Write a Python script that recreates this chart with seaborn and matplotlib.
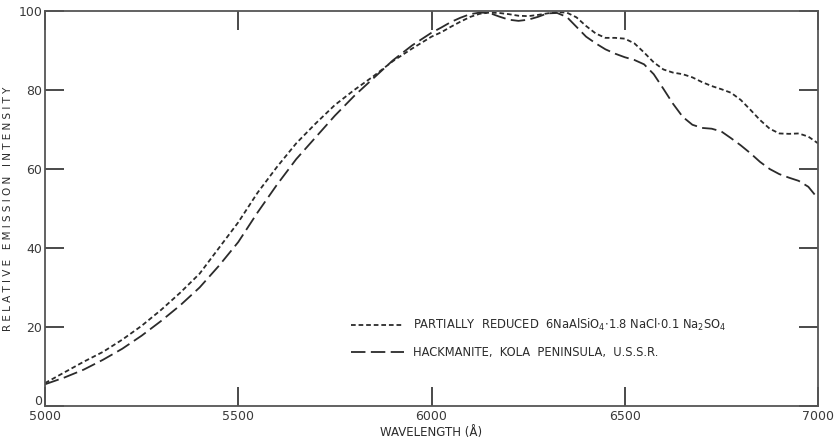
import numpy as np
import pandas as pd
import seaborn as sns
import matplotlib
matplotlib.use("Agg")
import matplotlib.pyplot as plt
import matplotlib.transforms as mtransforms

wavelength = [5000, 5050, 5100, 5150, 5200, 5250, 5300, 5350, 5400, 5450,
              5500, 5550, 5600, 5650, 5700, 5750, 5800, 5850, 5900, 5950,
              6000, 6025, 6050, 6075, 6100, 6125, 6150, 6175, 6200, 6225,
              6250, 6275, 6300, 6325, 6350, 6375, 6400, 6425, 6450, 6475,
              6500, 6525, 6550, 6575, 6600, 6625, 6650, 6675, 6700, 6725,
              6750, 6775, 6800, 6825, 6850, 6875, 6900, 6925, 6950, 6975, 7000]

partially_reduced = [5.8, 8.5, 11.2, 13.7, 16.8, 20.3, 24.3, 28.7, 33.5, 40.0,
                     46.5, 54.0, 60.5, 66.5, 71.5, 76.2, 80.0, 83.5, 87.3, 90.5,
                     93.5, 94.6, 96.0, 97.3, 98.5, 99.3, 99.6, 99.5, 99.2, 98.8,
                     98.7, 99.0, 99.4, 99.7, 99.6, 98.4, 96.2, 94.3, 93.2, 93.2,
                     93.0, 91.8, 89.5, 87.0, 85.2, 84.4, 84.0, 83.2, 82.0, 81.0,
                     80.2, 79.3, 77.5, 75.0, 72.4, 70.2, 69.0, 68.9, 69.0, 68.2, 66.5]

hackmanite = [5.5, 7.2, 9.2, 11.7, 14.5, 17.8, 21.5, 25.5, 30.0, 35.5,
              41.5, 49.0, 56.0, 62.5, 68.0, 73.5, 78.5, 83.0, 87.5, 91.3,
              94.5, 95.8, 97.2, 98.3, 99.2, 99.6, 99.5, 98.6, 97.8, 97.5,
              97.8, 98.5, 99.4, 99.5, 98.5, 96.0, 93.5, 91.8, 90.3, 89.2,
              88.3, 87.6, 86.5, 84.0, 80.3, 76.5, 73.2, 71.2, 70.4, 70.2,
              69.5, 67.8, 66.0, 64.0, 61.8, 60.0, 58.7, 57.8, 57.0, 55.5, 52.5]

label_pr = r"PARTIALLY  REDUCED  6NaAlSiO$_4$$\cdot$1.8 NaCl$\cdot$0.1 Na$_2$SO$_4$"
label_hk = "HACKMANITE,  KOLA  PENINSULA,  U.S.S.R."

x_ticks = [5000, 5500, 6000, 6500, 7000]
y_ticks = [0, 20, 40, 60, 80, 100]

df = pd.DataFrame({
    "wavelength": wavelength * 2,
    "intensity": partially_reduced + hackmanite,
    "series": [label_pr] * len(wavelength) + [label_hk] * len(wavelength),
})

sns.set_theme(style="white")
plt.rcParams["font.family"] = ["DejaVu Sans"]

fig = plt.figure(figsize=(8.35, 4.42), dpi=100)
ax = fig.add_axes([45 / 835, 36 / 442, (818 - 45) / 835, (406 - 11) / 442])

ink = "#2b2b2b"
sns.lineplot(data=df, x="wavelength", y="intensity", style="series",
             dashes={label_pr: (2.6, 1.6), label_hk: (8, 3)},
             color=ink, linewidth=1.3, ax=ax, legend=True)

ax.set_xlim(5000, 7000)
ax.set_ylim(0, 100)
ax.set_xticks(x_ticks)
ax.set_yticks(y_ticks)
ax.tick_params(axis="both", direction="in", length=14, width=1.2, color=ink,
               labelsize=9, labelcolor="#3a3a3a", pad=2,
               top=True, right=True, bottom=True, left=True)
ax.tick_params(axis="x", pad=3)
for s in ax.spines.values():
    s.set_color("#555555")
    s.set_linewidth(1.3)

# lift the "0" label slightly, as in the original
for lab in ax.get_yticklabels():
    if lab.get_text() == "0":
        lab.set_transform(lab.get_transform() +
                          mtransforms.ScaledTranslation(0, 6 / 100, fig.dpi_scale_trans))

ax.set_xlabel("WAVELENGTH (Å)", fontsize=8.5, color=ink, labelpad=2)
ax.set_ylabel("R E L A T I V E   E M I S S I O N   I N T E N S I T Y",
              fontsize=7.5, color=ink)
ax.yaxis.set_label_coords(-0.042, 0.5)

leg = ax.legend(loc="upper left", bbox_to_anchor=(0.39, 0.237), frameon=False,
                handlelength=4.6, handletextpad=0.8, fontsize=8.3,
                labelspacing=1.1, borderaxespad=0)
for t in leg.get_texts():
    t.set_color(ink)

fig.savefig("out.png", dpi=100, facecolor="white")
